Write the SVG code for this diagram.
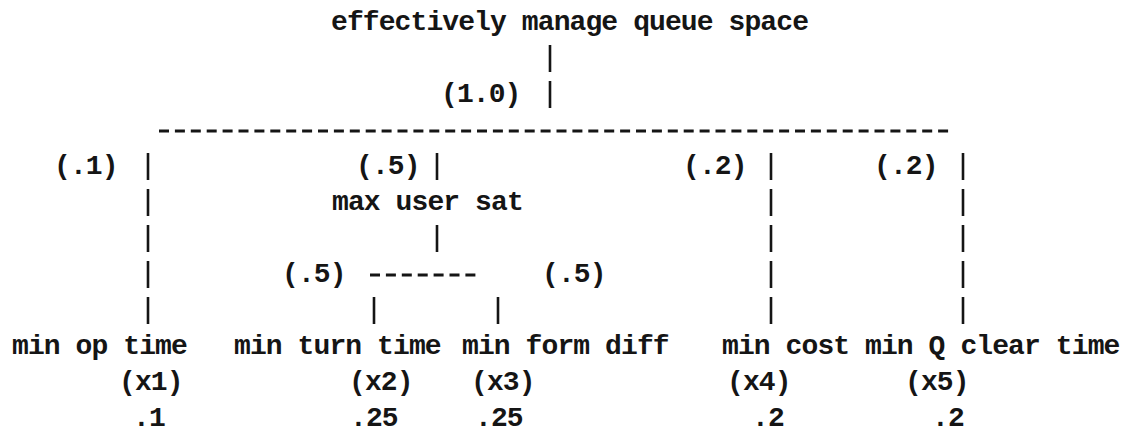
<svg xmlns="http://www.w3.org/2000/svg" width="1143" height="438" viewBox="0 0 1143 438">
<style>
  .t { font-family: "Liberation Mono", "Courier New", monospace; font-size: 28px; letter-spacing: -0.9px; font-weight: bold; fill: #151515; }
  .bar { stroke: #151515; stroke-width: 2.6; fill: none; }
  .dash { stroke: #151515; stroke-width: 3; fill: none; stroke-dasharray: 10 5.9; }
</style>
<rect width="1143" height="438" fill="#ffffff"/>

<g id="connectors">
  <line class="bar" x1="550" y1="45" x2="550" y2="72"/>
  <line class="bar" x1="550" y1="81" x2="550" y2="108"/>
  <line class="dash" x1="159" y1="131" x2="953" y2="131"/>
  <line class="bar" x1="148" y1="153" x2="148" y2="180"/>
  <line class="bar" x1="437" y1="153" x2="437" y2="180"/>
  <line class="bar" x1="771" y1="153" x2="771" y2="180"/>
  <line class="bar" x1="963" y1="153" x2="963" y2="180"/>
  <line class="bar" x1="148" y1="189" x2="148" y2="216"/>
  <line class="bar" x1="771" y1="189" x2="771" y2="216"/>
  <line class="bar" x1="963" y1="189" x2="963" y2="216"/>
  <line class="bar" x1="148" y1="225" x2="148" y2="252"/>
  <line class="bar" x1="437" y1="225" x2="437" y2="252"/>
  <line class="bar" x1="771" y1="225" x2="771" y2="252"/>
  <line class="bar" x1="963" y1="225" x2="963" y2="252"/>
  <line class="bar" x1="148" y1="261" x2="148" y2="288"/>
  <line class="bar" x1="771" y1="261" x2="771" y2="288"/>
  <line class="bar" x1="963" y1="261" x2="963" y2="288"/>
  <line class="dash" x1="370" y1="275" x2="478" y2="275"/>
  <line class="bar" x1="148" y1="297" x2="148" y2="324"/>
  <line class="bar" x1="374" y1="297" x2="374" y2="324"/>
  <line class="bar" x1="498" y1="297" x2="498" y2="324"/>
  <line class="bar" x1="771" y1="297" x2="771" y2="324"/>
  <line class="bar" x1="963" y1="297" x2="963" y2="324"/>
</g>

<g id="weights">
  <text class="t" x="441" y="102">(1.0)</text>
  <text class="t" x="54" y="174">(.1)</text>
  <text class="t" x="356" y="174">(.5)</text>
  <text class="t" x="683" y="174">(.2)</text>
  <text class="t" x="874" y="174">(.2)</text>
  <text class="t" x="282" y="282">(.5)</text>
  <text class="t" x="542" y="282">(.5)</text>
</g>

<g id="root">
  <text class="t" x="331" y="30">effectively manage queue space</text>
</g>

<g id="max-user-sat">
  <text class="t" x="332" y="210">max user sat</text>
</g>

<g id="leaf-x1">
  <text class="t" x="12" y="354">min op time</text>
  <text class="t" x="119" y="390">(x1)</text>
  <text class="t" x="133" y="426">.1</text>
</g>
<g id="leaf-x2">
  <text class="t" x="234" y="354">min turn time</text>
  <text class="t" x="349" y="390">(x2)</text>
  <text class="t" x="350" y="426">.25</text>
</g>
<g id="leaf-x3">
  <text class="t" x="462" y="354">min form diff</text>
  <text class="t" x="471" y="390">(x3)</text>
  <text class="t" x="475" y="426">.25</text>
</g>
<g id="leaf-x4">
  <text class="t" x="722" y="354">min cost</text>
  <text class="t" x="727" y="390">(x4)</text>
  <text class="t" x="752" y="426">.2</text>
</g>
<g id="leaf-x5">
  <text class="t" x="865" y="354">min Q clear time</text>
  <text class="t" x="905" y="390">(x5)</text>
  <text class="t" x="932" y="426">.2</text>
</g>
</svg>
